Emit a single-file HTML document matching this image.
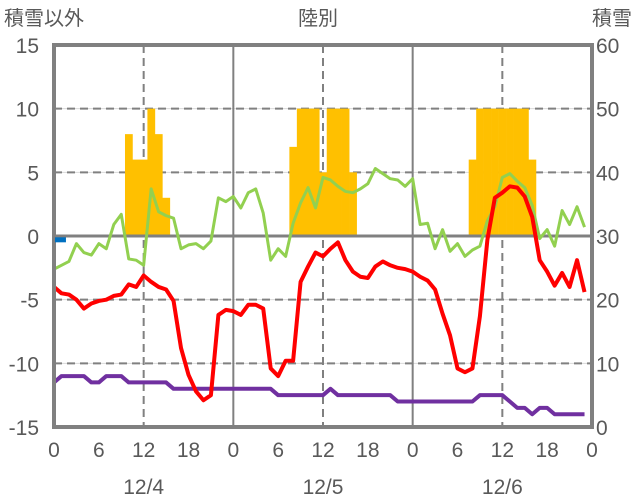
<!DOCTYPE html>
<html><head><meta charset="utf-8"><style>
body{margin:0;background:#fff;}
svg{display:block;font-family:"Liberation Sans","Noto Sans CJK JP",sans-serif;}
text{fill:#595959;font-size:21px;}
</style></head><body>
<svg id="c" width="636" height="501">
<text x="4" y="25" style="font-size:20px">積雪以外</text>
<text x="318" y="25" text-anchor="middle" style="font-size:20px">陸別</text>
<text x="632" y="25" text-anchor="end" style="font-size:20px">積雪</text>
</svg>
<script>
const hourTicks=['0','6','12','18','0','6','12','18','0','6','12','18','0'];
const dateLabels=['12/4','12/5','12/6'];
const leftTicks=[15,10,5,0,-5,-10,-15];
const rightTicks=[60,50,40,30,20,10,0];
const snowHours=[10,11,12,13,14,15,32,33,34,35,36,37,38,39,40,56,57,58,59,60,61,62,63,64];
const snowValues=[8,6,6,10,8,3,7,10,10,10,5,10,10,10,5,6,10,10,10,10,10,10,10,6];
const green=[-2.6,-2.3,-2,-0.6,-1.3,-1.5,-0.6,-1,0.9,1.7,-1.8,-1.9,-2.3,3.7,1.9,1.6,1.4,-1,-0.7,-0.6,-1,-0.4,3,2.7,
3.1,2.2,3.4,3.7,1.8,-1.9,-1,-1.6,1,2.6,3.8,2.2,4.6,4.4,3.9,3.5,3.4,3.7,4.1,5.3,4.9,4.5,4.4,3.9,
4.5,0.9,1,-1,0.5,-1.2,-0.6,-1.6,-1.1,-0.8,1.2,2.3,4.6,4.9,4.3,3.8,2.4,-0.2,0.5,-0.8,2,0.9,2.3,0.7];
const red=[-4,-4.5,-4.6,-5,-5.7,-5.3,-5.1,-5,-4.7,-4.6,-3.8,-4,-3.1,-3.6,-4,-4.2,-5.1,-8.8,-10.9,-12.2,-12.9,-12.5,-6.2,-5.8,
-5.9,-6.2,-5.4,-5.4,-5.7,-10.4,-11,-9.8,-9.8,-3.6,-2.4,-1.3,-1.6,-1,-0.5,-1.9,-2.8,-3.2,-3.3,-2.4,-2,-2.3,-2.5,-2.6,
-2.8,-3.2,-3.5,-4.2,-6.1,-7.8,-10.4,-10.7,-10.4,-6.3,-0.3,3,3.4,3.9,3.8,3.1,1.5,-1.9,-2.8,-3.9,-2.9,-4,-1.9,-4.4];
const purple=[-11.5,-11,-11,-11,-11,-11.5,-11.5,-11,-11,-11,-11.5,-11.5,-11.5,-11.5,-11.5,-11.5,-12,-12,-12,-12,-12,-12,-12,-12,
-12,-12,-12,-12,-12,-12,-12.5,-12.5,-12.5,-12.5,-12.5,-12.5,-12.5,-12,-12.5,-12.5,-12.5,-12.5,-12.5,-12.5,-12.5,-12.5,-13,-13,
-13,-13,-13,-13,-13,-13,-13,-13,-13,-12.5,-12.5,-12.5,-12.5,-13,-13.5,-13.5,-14,-13.5,-13.5,-14,-14,-14,-14,-14];
const blue=[-0.3,-0.3];

const X0=54,X1=592,Y0=45,Y1=427;
const hw=(X1-X0)/72;
const x=h=>X0+h*hw;
const y=v=>236-v*(Y1-Y0)/30;
const yr=v=>Y1-v*(Y1-Y0)/60;
const svg=document.getElementById('c');
const NS='http://www.w3.org/2000/svg';
function mk(tag,attrs){const e=document.createElementNS(NS,tag);for(const k in attrs)e.setAttribute(k,attrs[k]);svg.appendChild(e);return e;}

[10,5,-5,-10].forEach(v=>{
 const g=mk('line',{x1:X0,x2:X1,y1:y(v),y2:y(v),stroke:'#d9d9d9','stroke-width':1});
 
 
 const d=mk('line',{x1:X0,x2:X1,y1:y(v),y2:y(v),stroke:'#808080','stroke-width':2,'stroke-dasharray':'8,5'});
 
 
});
[12,36,60].forEach(h=>{
 const d=mk('line',{x1:x(h),x2:x(h),y1:Y0,y2:Y1,stroke:'#808080','stroke-width':2,'stroke-dasharray':'8,5'});
 
 
});
[24,48].forEach(h=>{
 const d=mk('line',{x1:x(h),x2:x(h),y1:Y0,y2:Y1,stroke:'#808080','stroke-width':2});
 
 
});
snowHours.forEach((h,i)=>{
 const v=snowValues[i];
 const r=mk('rect',{x:x(h)-hw/2,y:y(v),width:hw+0.3,height:y(0)-y(v),fill:'#ffc000'});
 
 
});
const z=mk('line',{x1:X0,x2:X1,y1:y(0),y2:y(0),stroke:'#808080','stroke-width':3});


function line(arr,color,name,w){
 const p=mk('polyline',{points:arr.map((v,i)=>x(i)+','+y(v)).join(' '),fill:'none',stroke:color,'stroke-width':w,'stroke-linejoin':'round'});
 
 
}
line(green,'#92d050','green-series',3);
line(purple,'#7030a0','purple-series',4);
line(red,'#ff0000','red-series',4);
const f=mk('rect',{x:X0,y:Y0,width:X1-X0,height:Y1-Y0,fill:'none',stroke:'#808080','stroke-width':4});


const b=mk('polyline',{points:blue.map((v,i)=>(x(i*1.6)+(i?0:1))+','+y(v)).join(' '),fill:'none',stroke:'#0070c0','stroke-width':5});


leftTicks.forEach(v=>{
 const t=mk('text',{x:39,y:y(v)+8,'text-anchor':'end'});t.textContent=v;
 
 
});
rightTicks.forEach(v=>{
 const t=mk('text',{x:596,y:yr(v)+8});t.textContent=v;
 
 
});
hourTicks.forEach((s,i)=>{
 const t=mk('text',{x:x(i*6),y:457,'text-anchor':'middle'});t.textContent=s;
 
 
});
dateLabels.forEach((s,i)=>{
 const t=mk('text',{x:x(i*24+12),y:494,'text-anchor':'middle'});t.textContent=s;
 
 
});
</script>
</body></html>
